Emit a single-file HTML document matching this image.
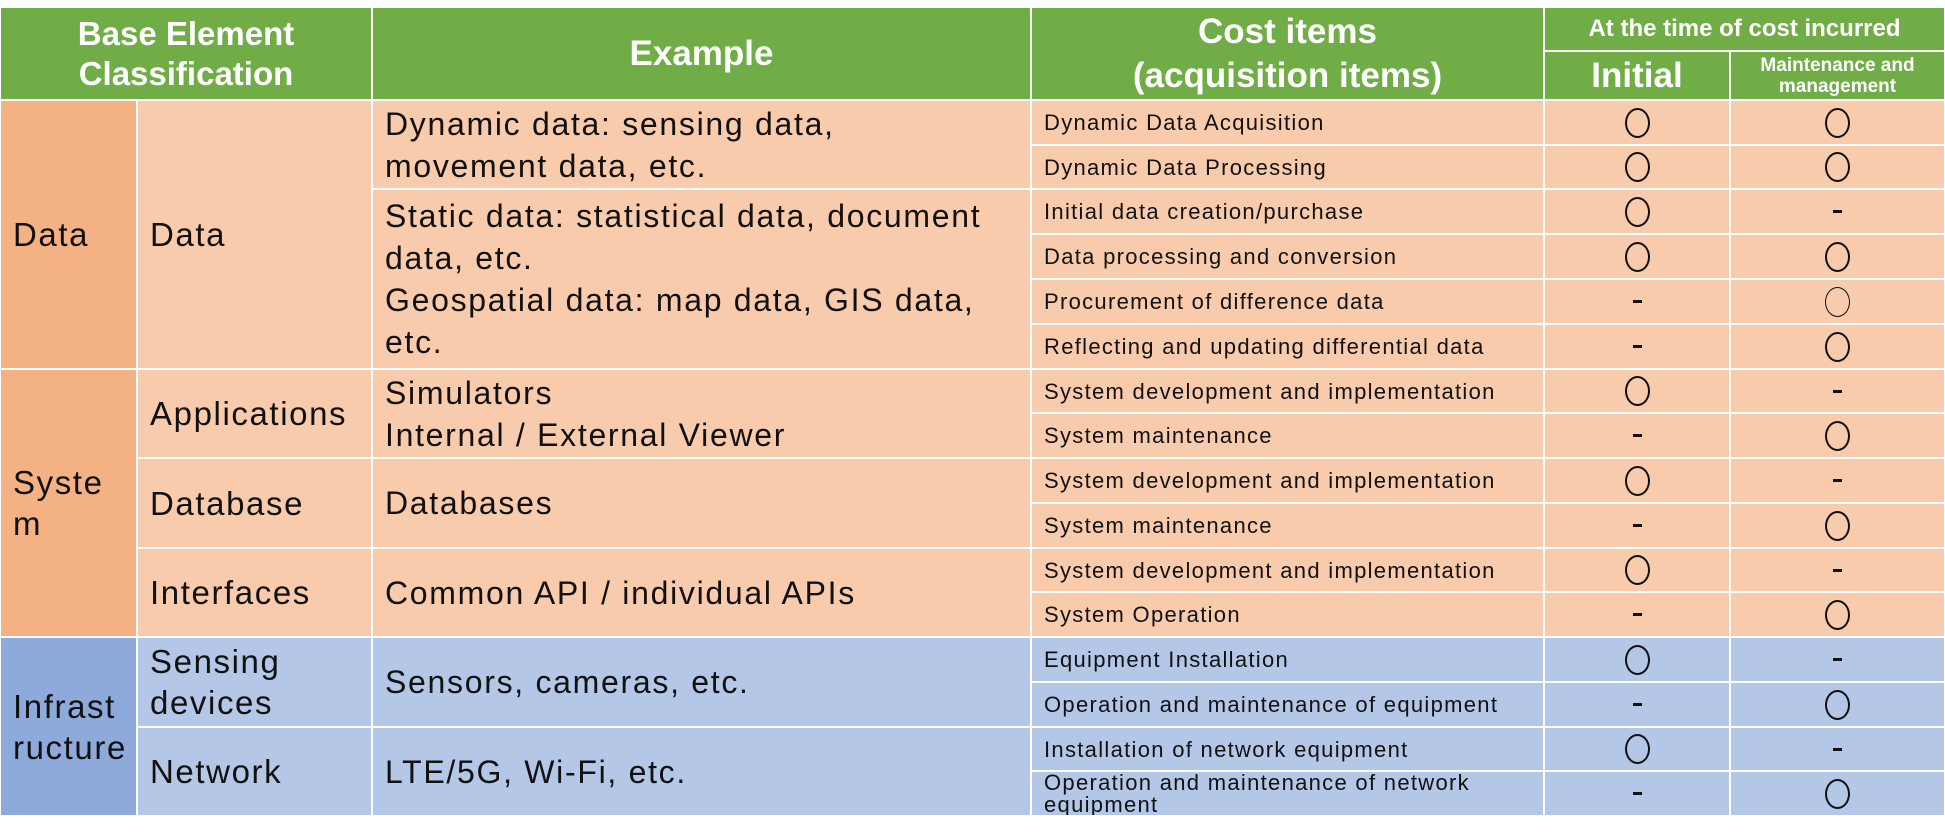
<!DOCTYPE html>
<html><head><meta charset="utf-8"><style>
html,body{margin:0;padding:0;background:#fff;}
body{width:1945px;height:833px;position:relative;overflow:hidden;font-family:"Liberation Sans","DejaVu Sans",sans-serif;color:#111;}
.c{position:absolute;box-sizing:border-box;border:1.5px solid #fff;display:flex;align-items:center;overflow:hidden;white-space:nowrap;}
.g{background:#70ad47;color:#fff;font-weight:bold;justify-content:center;text-align:center;}
.d1{background:#f4b183;}
.d2{background:#f8cbad;}
.i1{background:#8eaadb;}
.i2{background:#b4c7e7;}
.cat{font-size:33px;letter-spacing:1.6px;padding-left:12px;line-height:41px;}
.ex{font-size:32px;letter-spacing:1.7px;padding-left:12px;line-height:42px;}
.ci{font-size:22px;letter-spacing:1.3px;padding-left:12px;line-height:27px;}
.m{justify-content:center;}
.o{width:25px;height:30px;border:2px solid #111;border-radius:50%;box-sizing:border-box;}
.dash{width:9px;height:3px;background:#111;}
</style></head><body>
<div class="c g" style="left:0;top:7px;width:372px;height:93px;font-size:33px;line-height:40px;">Base Element<br>Classification</div>
<div class="c g" style="left:372px;top:7px;width:659px;height:93px;font-size:35px;">Example</div>
<div class="c g" style="left:1031px;top:7px;width:513px;height:93px;font-size:35px;line-height:44px;">Cost items<br>(acquisition items)</div>
<div class="c g" style="left:1544px;top:7px;width:401px;height:44px;font-size:24px;">At the time of cost incurred</div>
<div class="c g" style="left:1544px;top:51px;width:186px;height:49px;font-size:35px;">Initial</div>
<div class="c g" style="left:1730px;top:51px;width:215px;height:49px;font-size:19px;line-height:21px;">Maintenance and<br>management</div>

<div class="c d1 cat" style="left:0;top:100px;width:137px;height:269px;">Data</div>
<div class="c d1 cat" style="left:0;top:369px;width:137px;height:268px;">Syste<br>m</div>
<div class="c i1 cat" style="left:0;top:637px;width:137px;height:179px;">Infrast<br>ructure</div>

<div class="c d2 cat" style="left:137px;top:100px;width:235px;height:269px;">Data</div>
<div class="c d2 cat" style="left:137px;top:369px;width:235px;height:89px;">Applications</div>
<div class="c d2 cat" style="left:137px;top:458px;width:235px;height:90px;">Database</div>
<div class="c d2 cat" style="left:137px;top:548px;width:235px;height:89px;">Interfaces</div>
<div class="c i2 cat" style="left:137px;top:637px;width:235px;height:90px;">Sensing<br>devices</div>
<div class="c i2 cat" style="left:137px;top:727px;width:235px;height:89px;">Network</div>

<div class="c d2 ex" style="left:372px;top:100px;width:659px;height:89px;">Dynamic data: sensing data,<br>movement data, etc.</div>
<div class="c d2 ex" style="left:372px;top:189px;width:659px;height:180px;">Static data: statistical data, document<br>data, etc.<br>Geospatial data: map data, GIS data,<br>etc.</div>
<div class="c d2 ex" style="left:372px;top:369px;width:659px;height:89px;">Simulators<br>Internal / External Viewer</div>
<div class="c d2 ex" style="left:372px;top:458px;width:659px;height:90px;">Databases</div>
<div class="c d2 ex" style="left:372px;top:548px;width:659px;height:89px;">Common API / individual APIs</div>
<div class="c i2 ex" style="left:372px;top:637px;width:659px;height:90px;">Sensors, cameras, etc.</div>
<div class="c i2 ex" style="left:372px;top:727px;width:659px;height:89px;">LTE/5G, Wi-Fi, etc.</div>

<div class="c d2 ci" style="left:1031px;top:100px;width:513px;height:45px;">Dynamic Data Acquisition</div>
<div class="c d2 m" style="left:1544px;top:100px;width:186px;height:45px;"><div class="o"></div></div>
<div class="c d2 m" style="left:1730px;top:100px;width:215px;height:45px;"><div class="o"></div></div>

<div class="c d2 ci" style="left:1031px;top:145px;width:513px;height:44px;">Dynamic Data Processing</div>
<div class="c d2 m" style="left:1544px;top:145px;width:186px;height:44px;"><div class="o"></div></div>
<div class="c d2 m" style="left:1730px;top:145px;width:215px;height:44px;"><div class="o"></div></div>

<div class="c d2 ci" style="left:1031px;top:189px;width:513px;height:45px;">Initial data creation/purchase</div>
<div class="c d2 m" style="left:1544px;top:189px;width:186px;height:45px;"><div class="o"></div></div>
<div class="c d2 m" style="left:1730px;top:189px;width:215px;height:45px;"><div class="dash"></div></div>

<div class="c d2 ci" style="left:1031px;top:234px;width:513px;height:45px;">Data processing and conversion</div>
<div class="c d2 m" style="left:1544px;top:234px;width:186px;height:45px;"><div class="o"></div></div>
<div class="c d2 m" style="left:1730px;top:234px;width:215px;height:45px;"><div class="o"></div></div>

<div class="c d2 ci" style="left:1031px;top:279px;width:513px;height:45px;">Procurement of difference data</div>
<div class="c d2 m" style="left:1544px;top:279px;width:186px;height:45px;"><div class="dash"></div></div>
<div class="c d2 m" style="left:1730px;top:279px;width:215px;height:45px;"><div class="o" style="border-width:1px"></div></div>

<div class="c d2 ci" style="left:1031px;top:324px;width:513px;height:45px;">Reflecting and updating differential data</div>
<div class="c d2 m" style="left:1544px;top:324px;width:186px;height:45px;"><div class="dash"></div></div>
<div class="c d2 m" style="left:1730px;top:324px;width:215px;height:45px;"><div class="o"></div></div>

<div class="c d2 ci" style="left:1031px;top:369px;width:513px;height:44px;">System development and implementation</div>
<div class="c d2 m" style="left:1544px;top:369px;width:186px;height:44px;"><div class="o"></div></div>
<div class="c d2 m" style="left:1730px;top:369px;width:215px;height:44px;"><div class="dash"></div></div>

<div class="c d2 ci" style="left:1031px;top:413px;width:513px;height:45px;">System maintenance</div>
<div class="c d2 m" style="left:1544px;top:413px;width:186px;height:45px;"><div class="dash"></div></div>
<div class="c d2 m" style="left:1730px;top:413px;width:215px;height:45px;"><div class="o"></div></div>

<div class="c d2 ci" style="left:1031px;top:458px;width:513px;height:45px;">System development and implementation</div>
<div class="c d2 m" style="left:1544px;top:458px;width:186px;height:45px;"><div class="o"></div></div>
<div class="c d2 m" style="left:1730px;top:458px;width:215px;height:45px;"><div class="dash"></div></div>

<div class="c d2 ci" style="left:1031px;top:503px;width:513px;height:45px;">System maintenance</div>
<div class="c d2 m" style="left:1544px;top:503px;width:186px;height:45px;"><div class="dash"></div></div>
<div class="c d2 m" style="left:1730px;top:503px;width:215px;height:45px;"><div class="o"></div></div>

<div class="c d2 ci" style="left:1031px;top:548px;width:513px;height:44px;">System development and implementation</div>
<div class="c d2 m" style="left:1544px;top:548px;width:186px;height:44px;"><div class="o"></div></div>
<div class="c d2 m" style="left:1730px;top:548px;width:215px;height:44px;"><div class="dash"></div></div>

<div class="c d2 ci" style="left:1031px;top:592px;width:513px;height:45px;">System Operation</div>
<div class="c d2 m" style="left:1544px;top:592px;width:186px;height:45px;"><div class="dash"></div></div>
<div class="c d2 m" style="left:1730px;top:592px;width:215px;height:45px;"><div class="o"></div></div>

<div class="c i2 ci" style="left:1031px;top:637px;width:513px;height:45px;">Equipment Installation</div>
<div class="c i2 m" style="left:1544px;top:637px;width:186px;height:45px;"><div class="o"></div></div>
<div class="c i2 m" style="left:1730px;top:637px;width:215px;height:45px;"><div class="dash"></div></div>

<div class="c i2 ci" style="left:1031px;top:682px;width:513px;height:45px;">Operation and maintenance of equipment</div>
<div class="c i2 m" style="left:1544px;top:682px;width:186px;height:45px;"><div class="dash"></div></div>
<div class="c i2 m" style="left:1730px;top:682px;width:215px;height:45px;"><div class="o"></div></div>

<div class="c i2 ci" style="left:1031px;top:727px;width:513px;height:44px;">Installation of network equipment</div>
<div class="c i2 m" style="left:1544px;top:727px;width:186px;height:44px;"><div class="o"></div></div>
<div class="c i2 m" style="left:1730px;top:727px;width:215px;height:44px;"><div class="dash"></div></div>

<div class="c i2 ci" style="left:1031px;top:771px;width:513px;height:45px;line-height:22px;">Operation and maintenance of network<br>equipment</div>
<div class="c i2 m" style="left:1544px;top:771px;width:186px;height:45px;"><div class="dash"></div></div>
<div class="c i2 m" style="left:1730px;top:771px;width:215px;height:45px;"><div class="o"></div></div>
</body></html>
